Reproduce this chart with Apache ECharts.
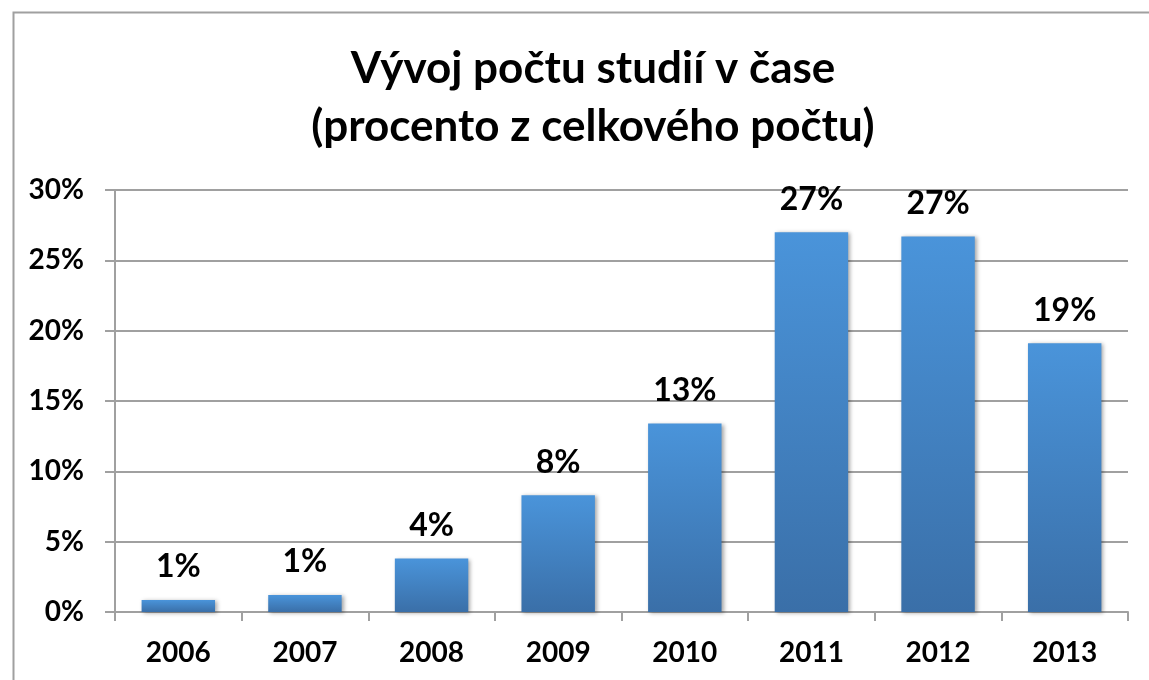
<!DOCTYPE html>
<html>
<head>
<meta charset="utf-8">
<script src="https://cdn.jsdelivr.net/npm/echarts@6/dist/echarts.min.js"></script>
<style>
  html, body { margin: 0; padding: 0; background: #fff; }
  #graph1 { width: 1149px; height: 680px; }
</style>
</head>
<body>
<div id="graph1"></div>
<script>
// data
var years = ['2006', '2007', '2008', '2009', '2010', '2011', '2012', '2013'];
var shares = [0.85, 1.2, 3.8, 8.3, 13.4, 27.0, 26.7, 19.1];   // percent
var yTicks = { min: 0, max: 30, step: 5 };

var option = {
    animation: false,
    backgroundColor: '#fff',
    textStyle: { fontFamily: 'Lato' },
    title: {
        text: 'Vývoj počtu studií v čase\n(procento z celkového počtu)',
        left: 588,
        top: 35,
        textAlign: 'center',
        textStyle: {
            fontFamily: 'Lato',
            fontWeight: 'bold',
            fontSize: 44,
            lineHeight: 58,
            color: '#000'
        }
    },
    graphic: [{
        type: 'rect',
        left: 11,
        top: 10,
        shape: { width: 1300, height: 900 },
        style: { fill: 'none', stroke: '#a0a0a0', lineWidth: 2 },
        silent: true
    }],
    grid: { left: 115, right: 21, top: 190, bottom: 68 },
    xAxis: {
        type: 'category',
        data: years,
        axisLine: { lineStyle: { color: '#a0a0a0', width: 2 } },
        axisTick: { show: true, length: 9, lineStyle: { color: '#a0a0a0', width: 2 } },
        axisLabel: {
            margin: 27,
            color: '#000',
            fontFamily: 'Lato',
            fontWeight: 'bold',
            fontSize: 28
        }
    },
    yAxis: {
        type: 'value',
        min: yTicks.min,
        max: yTicks.max,
        interval: yTicks.step,
        axisLine: { show: true, lineStyle: { color: '#a0a0a0', width: 2 } },
        axisTick: { show: true, length: 10, lineStyle: { color: '#a0a0a0', width: 2 } },
        splitLine: { lineStyle: { color: '#a0a0a0', width: 2 } },
        axisLabel: {
            formatter: '{value}%',
            margin: 31,
            color: '#000',
            fontFamily: 'Lato',
            fontWeight: 'bold',
            fontSize: 28
        }
    },
    series: [{
        type: 'bar',
        data: shares,
        barWidth: '58%',
        itemStyle: {
            color: new echarts.graphic.LinearGradient(0, 0, 0, 1, [
                { offset: 0, color: '#4a94da' },
                { offset: 1, color: '#3a6fa8' }
            ]),
            shadowColor: 'rgba(0,0,0,0.35)',
            shadowBlur: 4,
            shadowOffsetX: 2,
            shadowOffsetY: 1
        },
        label: {
            show: true,
            position: 'top',
            distance: 17,
            color: '#000',
            fontFamily: 'Lato',
            fontWeight: 'bold',
            fontSize: 32,
            formatter: function (p) { return Math.round(p.value) + '%'; }
        }
    }]
};

var myChart = echarts.init(document.getElementById('graph1'));
myChart.setOption(option);
</script>
</body>
</html>
